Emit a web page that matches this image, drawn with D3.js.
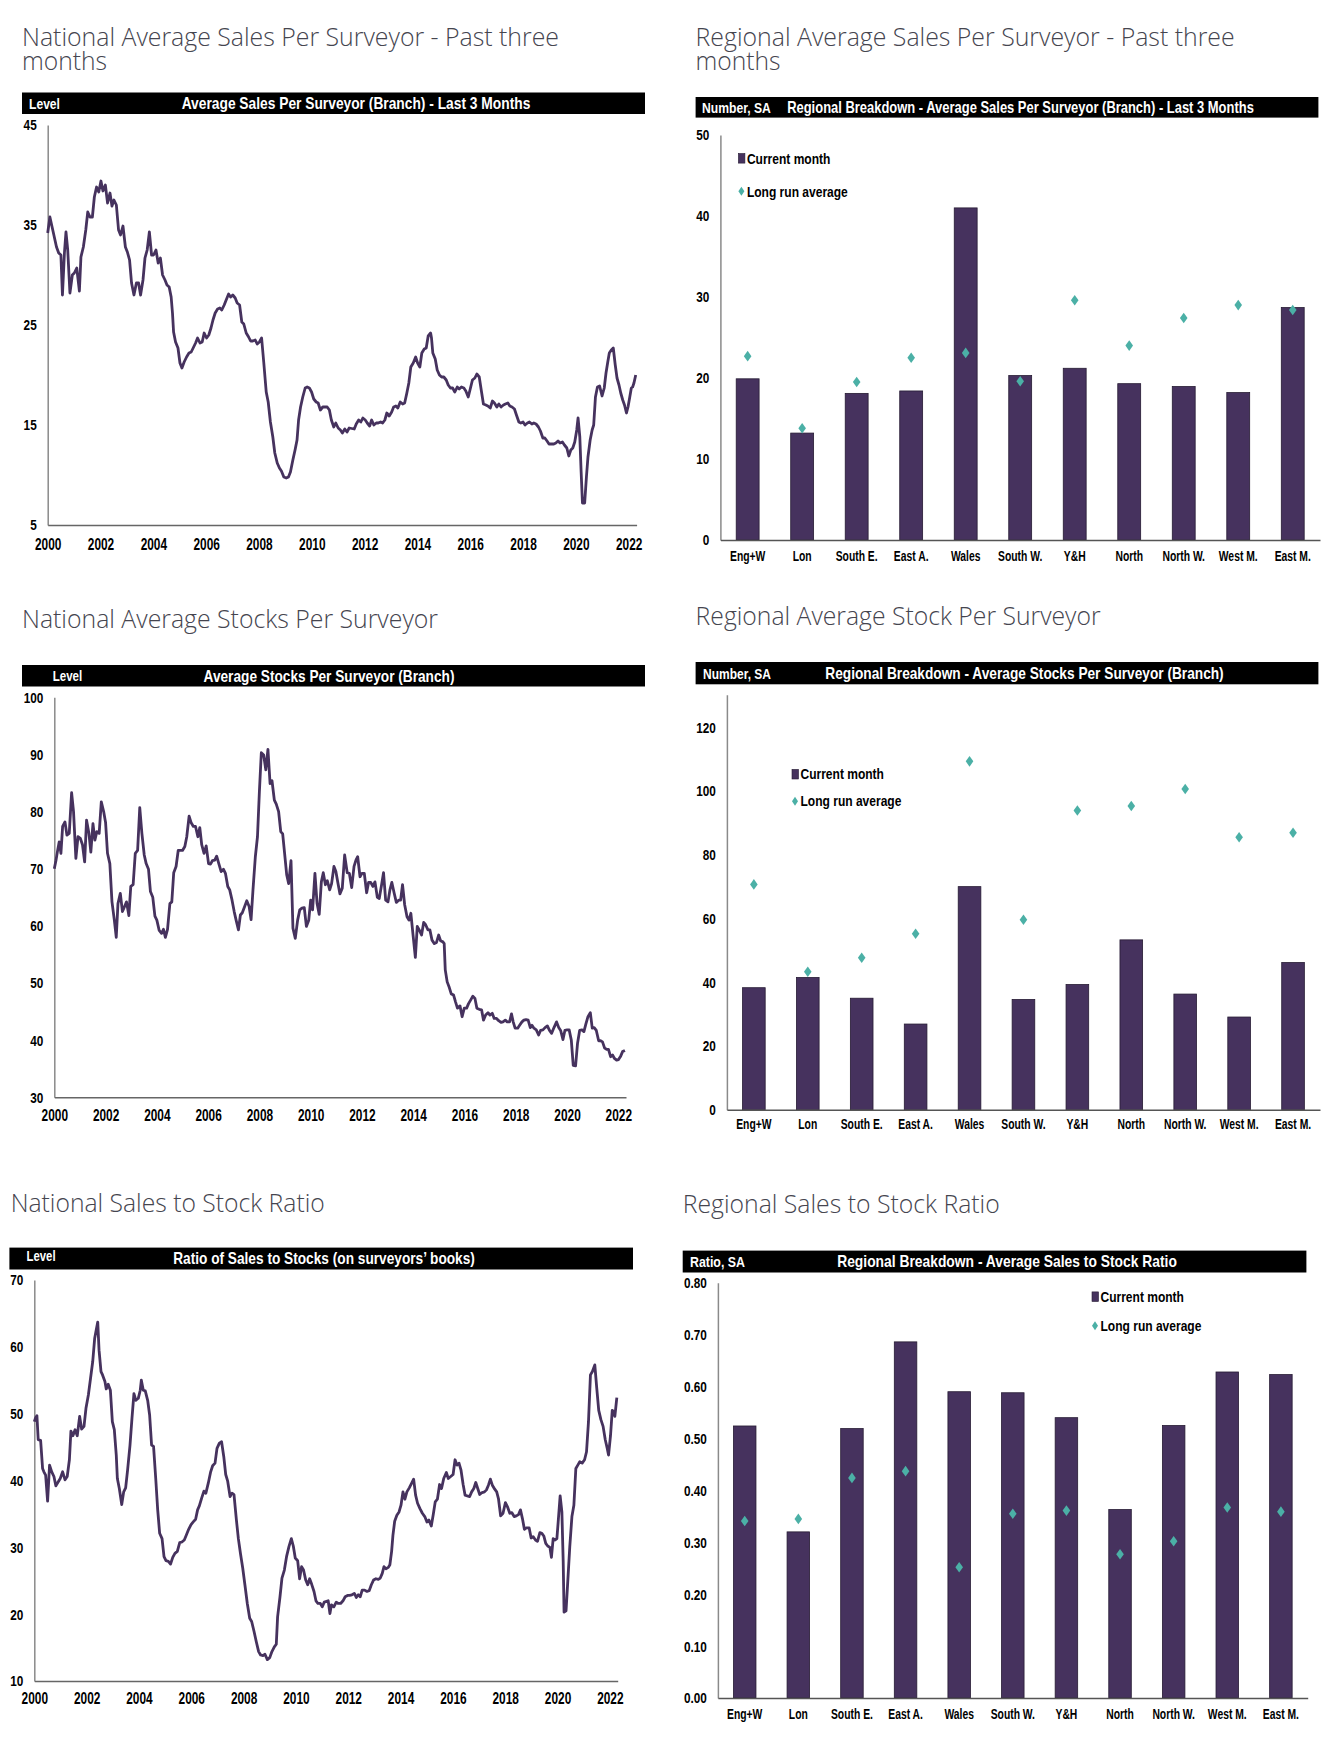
<!DOCTYPE html>
<html><head><meta charset="utf-8">
<script src="https://cdn.jsdelivr.net/npm/d3@7/dist/d3.min.js"></script>
<style>body{margin:0;background:#fff} svg{display:block}</style>
</head><body>
<svg id="c" width="1344" height="1752"></svg>
<script>
// ---------------- DATA ----------------
// line series: [months since Jan 2000, value]
const salesSeries = [[0,34.2],[1,35.8],[2,34.8],[3,33.8],[4,32.8],[5,32.2],[6,32.0],[6.7,28.0],[7.6,32.2],[8.3,34.3],[9.1,32.5],[10.1,28.2],[11.2,30.0],[12.1,30.2],[13.2,30.7],[14.4,28.4],[15.1,31.8],[16.2,32.8],[17.3,34.5],[18.2,36.3],[19.2,35.8],[20.3,35.8],[21.2,37.8],[22.2,38.8],[23.2,38.3],[24.2,39.4],[25.1,38.4],[26.2,39.0],[27.2,37.2],[28.3,38.2],[29.2,36.9],[30.1,37.5],[31.2,37.0],[32.2,34.5],[33.1,34.0],[34.2,34.9],[35.3,32.8],[36.2,32.3],[37.2,31.5],[38.1,29.2],[39.2,28.0],[40.3,29.2],[41.3,29.2],[42.2,28.0],[43.3,29.5],[44.2,31.7],[45.2,32.5],[46.2,34.3],[47.2,32.0],[48.1,32.0],[49.2,32.5],[50.2,31.2],[51.2,31.7],[52.2,30.0],[53.3,29.5],[54.2,29.0],[55.2,28.8],[56.1,27.8],[56.7,26.2],[57.2,24.3],[58.1,23.3],[59.2,22.7],[60.1,21.2],[61,20.7],[62,21.3],[63.1,21.8],[64.2,22.2],[65.2,22.3],[66.1,22.7],[67.2,23.2],[68.1,23.7],[69.2,23.2],[70.2,23.3],[71.1,24.2],[72.2,23.7],[73.2,24.0],[74.2,24.7],[75.1,25.5],[76.1,26.2],[77.2,26.6],[78.2,26.7],[79.1,26.5],[80.2,27.0],[81.1,27.5],[82.2,28.1],[83.1,27.8],[84.1,28.0],[85.2,27.7],[86.1,27.2],[87.2,27.0],[88.2,25.3],[89.1,25.1],[90.2,24.2],[91.3,23.8],[92.2,23.4],[93.2,23.4],[94.3,23.5],[95.2,23.1],[96.2,23.3],[97.2,23.7],[98.2,21.2],[99.3,18.3],[100.2,17.3],[101.2,15.3],[102.3,13.8],[103.2,12.2],[104.3,11.2],[105.3,10.7],[106.2,10.4],[107.3,9.8],[108.4,9.7],[109.4,9.8],[110.3,10.3],[111.4,11.5],[112.4,12.5],[113.3,13.5],[114,15.5],[114.9,16.8],[115.9,17.8],[117,18.7],[117.9,18.8],[118.9,18.7],[119.9,18.3],[120.9,17.6],[122,17.3],[122.9,17.2],[123.9,16.5],[125,16.8],[125.9,16.8],[127,16.8],[128,16.5],[128.9,15.5],[130,14.8],[130.9,15.2],[132,14.7],[133,14.5],[133.9,14.2],[135,14.6],[136,14.3],[137,14.7],
[139.3,14.6],[140.2,15.1],[141.3,15.5],[142.3,15.3],[143.2,15.7],[144.3,15.5],[145.2,15.2],[146.3,14.9],[147.2,15.5],[148.2,15.0],[149.3,15.2],[150.2,15.2],[151.3,15.3],[152.2,15.2],[153.2,15.5],[154.1,16.2],[155.2,15.9],[156.3,16.3],[157.2,16.8],[158.2,16.9],[159.1,16.7],[160.2,17.3],[161.3,17.1],[162.2,17.2],[163.2,18.2],[164.1,19.2],[165,20.8],[166.1,21.2],[167.2,21.8],[168.1,21.2],[169.1,20.8],[170,22.2],[171.1,22.6],[172,22.7],[172.9,23.9],[174,24.2],[174.4,23.7],[175,22.2],[176.1,21.6],[177,20.5],[178,20.0],[179,19.8],[180,19.8],[181.1,19.5],[182,19.0],[183,18.7],[184,18.7],[185,18.3],[186.1,18.8],[187,18.6],[188,18.8],[189.1,18.7],[190,18.4],[191.1,17.8],[192,18.6],[193,19.5],[194.1,19.7],[195,20.1],[196.1,19.8],[197,18.5],[198,17.1],[199.1,17.0],[200,16.9],[201.1,16.7],[202.1,17.4],[203,17.2],[204.1,16.8],[205,17.1],[206,16.8],[207.1,17.0],[208,17.1],[209.1,17.2],[210,16.9],[211,16.8],[212.1,16.6],[213,16.0],[214.1,15.3],[215,15.2],[216,15.3],[216.9,15.0],[218,15.2],[218.9,15.3],[220,15.1],[220.9,15.2],[221.9,15.1],[223,14.8],[223.9,14.4],[225,13.7],[225.9,13.7],[226.9,13.4],[227.8,13.1],[228.9,13.1],[230,13.1],[230.9,13.2],[231.9,13.4],[232.8,13.2],[233.9,13.3],[234.8,13.0],[235.9,12.7],[236.8,11.9],[237.7,12.5],[238.6,12.7],[239.5,13.3],[240.4,14.5],[241,15.7],[241.8,13.8],[242.4,10.3],[243,7.2],[244,7.2],[244.8,9.8],[245.5,11.8],[246.5,13.5],[247.4,14.5],[248.1,15.0],[248.9,17.8],[249.8,18.8],[250.8,18.9],[251.9,17.9],[252.9,18.7],[253.7,20.2],[254.5,21.3],[255.2,22.2],[256.1,22.5],[257,22.7],[257.9,21.0],[258.7,19.7],[259.6,19.0],[260.4,18.2],[261.3,17.5],[262.1,17.0],[263,16.2],[263.7,16.8],[264.5,17.8],[265.2,18.7],[265.8,18.8],[266.4,19.2],[267.2,20.0]];

const stocksSeries = [[0,70.0],[0.8,71.5],[1.6,73.3],[2.3,74.7],[3.1,72.7],[3.9,77.4],[5,78.2],[5.9,75.9],[7,76.2],[8.1,83.3],[9,80.0],[10.1,71.8],[11.1,75.6],[12.2,75.3],[13.2,74.2],[14.2,71.2],[15.1,78.5],[16.2,76.2],[17.1,72.9],[18.1,77.9],[19,75.0],[19.9,76.5],[21,76.2],[22,81.7],[23.1,80.0],[24,78.1],[24.9,72.7],[26,70.9],[27,64.2],[28.1,61.0],[29,58.0],[29.8,63.9],[30.9,65.7],[31.9,62.5],[32.9,63.4],[33.8,64.2],[34.9,61.8],[35.8,66.9],[36.9,67.2],[37.9,72.7],[39,73.2],[40,80.7],[41,76.2],[42.1,72.4],[43,70.9],[44.1,69.9],[45,66.0],[46.1,65.0],[47.1,61.7],[48,61.0],[49.1,59.2],[50.2,58.7],[51.1,59.4],[52,58.0],[53,59.4],[54.1,63.9],[55,64.2],[55.9,69.3],[57,70.4],[58,73.2],[59.1,73.2],[60,73.2],[61.1,73.9],[62,75.6],[63.1,79.2],[64,78.1],[65.1,77.4],[66.1,77.4],[67.2,75.6],[68.1,77.2],[69,74.2],[70.1,72.7],[71.1,74.0],[72.2,70.9],[73.1,70.8],[74,71.4],[75.1,71.5],[76,72.2],[77,70.9],[78.1,69.5],[79.2,69.9],[80.1,69.2],[81.2,66.9],[82.1,66.3],[83.2,64.5],[84.2,62.5],[85.1,61.0],[86.2,59.3],[87.1,61.9],[88,62.3],[89.1,63.4],[90.1,64.4],[91.2,63.4],[92.1,61.1],[93,66.3],[94.1,72.1],[95.1,75.6],[96,83.5],[96.9,90.3],[98,89.9],[99,87.3],[100,90.9],[101,84.9],[101.9,85.4],[103,82.0],[103.9,81.3],[105,80.0],[106,76.5],[106.9,76.1],[107.8,72.7],[108.8,68.9],[109.7,67.4],[110.8,71.4],[111.7,59.6],[112.8,57.8],[113.9,61.0],[114.9,62.8],[115.9,63.1],[117,63.2],[118,59.9],[119.1,61.0],[120,64.5],[120.9,62.8],[122,69.2],[123,63.9],[124,62.0],[125,67.7],[125.9,69.3],[126.9,67.2],[127.8,67.9],[128.9,66.3],[129.8,67.4],[130.9,70.4],[131.8,69.5],[132.8,67.4],[133.7,65.6],[134.8,66.6],[135.9,72.4],
[137.1,69.3],[138.1,69.2],[139.2,66.7],[140.3,70.4],[141.2,71.5],[142,72.1],[143.1,68.6],[144,69.2],[145.1,69.2],[146.2,65.8],[147.1,67.6],[148.1,67.6],[149.1,66.9],[150.1,67.7],[151.2,65.0],[152.1,64.8],[153.2,67.2],[154.1,69.3],[155.1,64.5],[156.2,64.2],[157.1,66.3],[158,67.6],[159.1,65.7],[160.1,64.1],[161.2,64.5],[162.1,64.5],[163,67.2],[164,63.7],[165.1,61.6],[166,61.0],[166.9,62.2],[168,58.1],[169,54.5],[169.9,59.9],[170.8,59.3],[171.9,58.4],[172.9,60.6],[173.8,60.2],[174.9,59.3],[175.8,59.3],[176.8,57.5],[177.9,56.9],[178.9,57.1],[179.9,58.4],[180.8,57.4],[181.9,57.2],[182.5,56.9],[183,52.3],[183.9,50.2],[184.9,49.2],[185.8,48.1],[186.9,47.9],[187.8,46.7],[188.7,45.6],[189.9,46.0],[190.9,44.1],[191.9,45.6],[193,45.6],[193.9,46.4],[195,47.1],[195.9,47.7],[196.9,47.3],[197.8,45.6],[198.9,45.4],[200,45.3],[200.9,43.5],[201.9,44.4],[203,44.8],[203.9,44.4],[205,44.7],[205.9,43.8],[207,43.8],[208,43.4],[209.1,43.1],[210,43.2],[211.1,43.5],[212,43.2],[213.1,43.2],[214,44.6],[214.8,43.2],[215.7,42.1],[216.9,42.1],[217.8,42.6],[218.9,43.2],[219.8,43.5],[220.8,43.6],[221.8,43.5],[222.8,42.2],[223.6,42.6],[224.5,42.1],[225.6,41.8],[226.7,40.9],[227.6,41.7],[228.7,41.8],[229.7,42.2],[230.8,42.5],[231.8,41.7],[232.8,41.2],[233.9,42.2],[235.1,43.2],[236.1,42.2],[237,41.7],[238.1,40.1],[239,41.7],[240.1,41.8],[241,41.8],[242,40.0],[242.9,35.6],[244,35.5],[244.9,39.4],[245.9,41.7],[247,41.8],[247.9,41.5],[248.8,42.8],[249.8,44.1],[250.9,44.8],[251.8,42.1],[252.7,42.2],[253.7,41.7],[254.8,39.9],[255.7,39.9],[256.6,39.7],[257.6,38.6],[258.5,38.4],[259.4,38.4],[260.4,37.1],[261.3,37.4],[262.2,36.8],[263.2,36.5],[264.1,36.6],[265.1,37.2],[266,38.0],[267.1,38.2]];

const ratioSeries = [[0,48.8],[0.6,49.4],[1.2,49.7],[1.8,46.1],[2.9,46.0],[3.8,41.8],[4.4,41.3],[5.2,40.8],[6.1,36.9],[7,42.3],[8,41.3],[9,40.6],[9.9,39.2],[11,39.8],[11.9,40.3],[13,41.3],[14.1,40.1],[15.1,40.6],[16.1,43.1],[16.8,47.4],[17.7,46.7],[18.7,47.6],[19.7,46.7],[20.8,49.6],[21.7,47.7],[22.8,48.1],[23.7,50.8],[24.8,52.8],[25.8,55.3],[26.8,57.8],[27.7,61.3],[28.4,62.5],[29.1,63.7],[29.7,59.5],[30.6,56.3],[31.3,55.8],[32.4,54.8],[33,53.7],[33.9,54.4],[34.9,53.5],[35.8,48.8],[36.7,47.6],[37.6,43.8],[38.1,40.3],[39,38.8],[40.1,36.4],[41,38.3],[41.9,38.9],[42.8,41.6],[43.9,45.3],[44.8,49.3],[45.7,53.0],[46.6,52.0],[47.7,52.3],[48.6,53.5],[49.1,55.0],[50,53.5],[50.9,53.4],[52,52.0],[52.9,49.8],[53.8,45.3],[54.7,45.1],[55.7,40.3],[56.6,35.6],[57.5,32.1],[58.6,31.3],[59.5,28.6],[60.4,28.0],[61.5,27.9],[62.5,27.5],[63.5,28.5],[64.5,29.1],[65.6,29.4],[66.7,30.7],[67.7,30.8],[68.8,31.1],[69.7,31.8],[70.8,32.7],[71.9,33.4],[72.9,33.8],[74,34.2],[74.9,35.6],[75.7,36.2],[76.8,37.4],[77.8,38.4],[78.7,38.1],[79.8,39.6],[80.9,41.3],[81.8,42.2],[82.9,42.6],[83.8,44.8],[84.9,45.6],[85.9,45.8],[86.9,43.6],[87.8,40.9],[88.7,39.9],[89.8,37.6],[90.7,38.1],[91.6,37.9],[92.7,34.1],[93.6,31.3],[94.6,29.0],[95.6,26.9],[96.6,24.4],[97.7,21.6],[98.8,19.4],[99.7,18.9],[100.8,17.4],[101.8,15.9],[102.9,14.4],[103.8,13.9],[104.9,13.8],[105.8,14.0],[106.9,13.2],[108,13.5],[109,14.4],[110.1,15.1],[111,15.5],[111.6,19.6],[112.7,22.6],[113.6,25.4],[114.7,26.6],[115.7,28.6],[116.8,30.1],[117.9,31.3],[118.8,30.2],[119.7,28.4],[120.8,28.0],[121.7,25.3],[122.6,27.1],[123.5,26.6],[124.5,25.1],[125.4,24.4],[126.3,25.3],[127.2,24.5],[128.3,23.4],[129.2,22.0],[130.1,21.6],[131.2,21.6],[132.1,21.1],[133,21.8],
[134.8,22.0],[135.6,20.1],[136.3,21.4],[137.4,21.1],[138.5,21.8],[139.4,21.6],[140.5,21.6],[141.6,22.0],[142.6,22.6],[143.7,22.8],[144.6,22.8],[145.7,22.9],[146.8,23.1],[147.7,22.5],[148.6,22.9],[149.5,22.6],[150.4,23.6],[151.5,23.6],[152.6,23.4],[153.6,23.5],[154.6,24.4],[155.6,25.1],[156.7,25.3],[157.8,25.2],[158.7,25.4],[159.6,26.1],[160.4,27.1],[161.3,26.8],[162.4,27.0],[163.1,27.4],[163.9,29.4],[164.5,31.8],[165.3,33.9],[166.3,34.8],[167.3,35.3],[168.2,36.3],[169.1,38.3],[170,37.2],[170.9,38.3],[172,38.9],[173.1,39.6],[174,40.2],[174.9,37.8],[175.8,36.6],[176.9,35.8],[178,35.1],[179.1,34.6],[180.1,33.8],[181,34.1],[182.1,33.2],[183,34.9],[183.9,36.8],[184.9,37.2],[185.9,39.4],[186.8,38.8],[187.8,40.3],[189,41.2],[189.9,40.3],[191,40.6],[192.1,40.9],[193,43.1],[193.9,42.3],[194.8,42.6],[195.7,41.6],[196.7,39.4],[197.6,37.8],[198.6,37.7],[199.7,37.6],[200.6,38.3],[201.6,38.8],[202.5,39.7],[203.4,38.8],[204.3,37.9],[205.4,38.2],[206.5,38.3],[207.4,38.6],[208.3,39.3],[209.2,40.2],[210.1,39.3],[211.2,38.7],[212.1,38.3],[212.9,37.3],[213.9,34.7],[215,35.1],[216.1,36.7],[217,36.1],[218.1,35.1],[219,35.2],[220.1,34.6],[221.1,34.7],[222.1,34.9],[223,35.6],[223.9,34.3],[224.8,32.7],[225.7,32.9],[227,32.9],[227.9,31.4],[228.8,31.6],[229.9,31.1],[230.8,30.9],[231.9,32.2],[232.8,32.1],[233.7,31.7],[234.6,30.6],[235.5,30.2],[236.5,30.0],[237.2,28.5],[238,31.3],[238.9,31.1],[239.7,31.3],[240.3,33.8],[241.2,37.7],[242,35.3],[242.6,27.9],[243,20.3],[243.9,20.5],[244.7,24.9],[245.6,30.0],[246.6,34.6],[247.5,36.3],[248.4,41.8],[249.3,42.3],[250.2,42.8],[251.3,42.6],[252.4,43.1],[253.3,44.3],[254.2,48.8],[255.1,55.8],[256,56.3],[257.1,57.3],[258,53.8],[258.9,50.5],[259.9,49.1],[260.9,48.1],[261.9,46.1],[262.8,44.8],[263.4,43.8],[264.3,46.7],[265.1,50.5],[265.7,50.3],[266.3,49.6],[267.2,52.4]];

const yearTicks = [2000,2002,2004,2006,2008,2010,2012,2014,2016,2018,2020,2022];
const salesTicks = [5,15,25,35,45];
const stocksTicks = [30,40,50,60,70,80,90,100];
const ratioTicks = [10,20,30,40,50,60,70];

const regions = ["Eng+W","Lon","South E.","East A.","Wales","South W.","Y&H","North","North W.","West M.","East M."];
const regSalesCurrent = [19.9,13.2,18.1,18.4,41.0,20.3,21.2,19.3,18.95,18.2,28.7];
const regSalesLongRun = [22.7,13.8,19.5,22.5,23.1,19.6,29.6,24.0,27.4,29.0,28.4];
const regStocksCurrent = [38.3,41.5,35.0,26.9,70.0,34.6,39.3,53.3,36.3,29.1,46.2];
const regStocksLongRun = [70.7,43.3,47.7,55.2,109.3,59.6,93.9,95.3,100.6,85.5,86.9];
const regRatioCurrent = [0.524,0.320,0.519,0.686,0.590,0.588,0.540,0.363,0.525,0.628,0.623];
const regRatioLongRun = [0.341,0.345,0.424,0.437,0.252,0.355,0.361,0.277,0.302,0.367,0.359];
const regSalesTicks = [0,10,20,30,40,50];
const regStocksTicks = [0,20,40,60,80,100,120];
const regRatioTicks = [0,0.1,0.2,0.3,0.4,0.5,0.6,0.7,0.8];
const legendLabels = ["Current month","Long run average"];

// ---------------- STYLE ----------------
const NARROW = "'Liberation Sans','Arial',sans-serif";
const TITLEF = "'Open Sans','Noto Sans',sans-serif";
const PURPLE = "#46325e";
const TEAL = "#4bb0a6";
const AXISC = "#8a8a8a";

const svg = d3.select("#c");

// place a text at (x,y) and squeeze it horizontally to a target width
function squeezed(parent, x, y, txt, w, anchor, attrs) {
  const t = parent.append("text").attr("text-anchor", anchor || "start").text(txt);
  Object.entries(attrs).forEach(([k, v]) => t.attr(k, v));
  const n = t.node().getComputedTextLength();
  const s = w / n;
  t.attr("transform", `translate(${x},${y}) scale(${s},1)`);
  return t;
}

function titleBlock(c) {
  const tt = svg.append("text").attr("transform", `translate(${c.titleX},${c.titleY})`)
    .attr("font-family", TITLEF).attr("font-weight", 300).attr("font-size", 25.5)
    .attr("fill", "#45454f");
  c.title.forEach((t, i) => {
    tt.append("tspan").attr("x", 0).attr("y", i * 24.3).text(t)
      .attr("textLength", c.titleW[i]).attr("lengthAdjust", "spacingAndGlyphs");
  });
  svg.append("rect").attr("x", c.bar[0]).attr("y", c.bar[1])
    .attr("width", c.bar[2] - c.bar[0]).attr("height", c.bar[3] - c.bar[1]).attr("fill", "#000");
  const cy = (c.bar[1] + c.bar[3]) / 2;
  const base = { "font-family": NARROW, "font-weight": "bold", "fill": "#fff", "dy": "0.36em" };
  squeezed(svg, c.unitX, cy + (c.unitDy || 0), c.unit, c.unitW, "start", { ...base, "font-size": 15 });
  squeezed(svg, c.headX, cy, c.head, c.headW, "middle", { ...base, "font-size": 16 });
}

function styleAxis(g, size, sx, left) {
  g.selectAll("text").attr("font-family", NARROW).attr("font-weight", "bold")
    .attr("font-size", size).attr("fill", "#000")
    .attr("transform", `scale(${sx},1)`);
  if (left) g.selectAll("text").attr("x", -11 / sx);
  g.select(".domain").attr("stroke", AXISC).attr("stroke-width", 1.5);
}

function lineChart(c) {
  titleBlock(c);
  const x = d3.scaleLinear().domain([2000, 2022.3]).range([c.x0, c.x1]);
  const y = d3.scaleLinear().domain(c.yDomain).range([c.yB, c.yT]);
  const gy = svg.append("g").attr("transform", `translate(${c.x0},0)`)
    .call(d3.axisLeft(y).tickValues(c.yTicks).tickSize(0).tickPadding(11).tickSizeOuter(0));
  styleAxis(gy, 15.5, 0.76, true);
  const gx = svg.append("g").attr("transform", `translate(0,${c.yB})`)
    .call(d3.axisBottom(x).tickValues(yearTicks).tickFormat(d3.format("d")).tickSize(0).tickSizeOuter(0));
  styleAxis(gx, 16.5, 0.72, false);
  gx.selectAll("text").attr("y", c.xLabOff).attr("dy", "0.36em");
  gx.select(".domain").attr("stroke", "#666");
  const line = d3.line().x(d => x(2000 + d[0] / 12)).y(d => y(d[1]));
  svg.append("path").datum(c.data).attr("d", line).attr("fill", "none")
    .attr("stroke", PURPLE).attr("stroke-width", 2.8).attr("stroke-linejoin", "round");
}

function diamond(w, h) { return `M0,${-h}L${w},0L0,${h}L${-w},0Z`; }

function barChart(c) {
  titleBlock(c);
  const x = d3.scaleBand().domain(regions).range([c.x0, c.x1]).paddingInner(0.58).paddingOuter(0.29);
  const y = d3.scaleLinear().domain(c.yDomain).range([c.yB, c.yT]);
  svg.append("g").selectAll("rect").data(c.current).join("rect")
    .attr("x", (d, i) => x(regions[i])).attr("width", x.bandwidth())
    .attr("y", d => y(d)).attr("height", d => y(0) - y(d))
    .attr("fill", PURPLE).attr("stroke", "#261b33").attr("stroke-width", 0.8);
  svg.append("g").selectAll("path").data(c.longRun).join("path")
    .attr("d", diamond(3.8, 5.3))
    .attr("transform", (d, i) => `translate(${x(regions[i]) + x.bandwidth() / 2},${y(d)})`)
    .attr("fill", TEAL);
  const gy = svg.append("g").attr("transform", `translate(${c.x0},0)`)
    .call(d3.axisLeft(y).tickValues(c.yTicks).tickFormat(c.fmt).tickSize(0).tickPadding(11).tickSizeOuter(0));
  styleAxis(gy, 15.5, 0.76, true);
  const gx = svg.append("g").attr("transform", `translate(0,${c.yB})`)
    .call(d3.axisBottom(x).tickSize(0).tickSizeOuter(0));
  styleAxis(gx, 14, 0.74, false);
  gx.selectAll("text").attr("y", c.xLabOff).attr("dy", "0.36em");
  gx.select(".domain").attr("stroke", "#555");
  // legend
  const L = c.legend;
  svg.append("rect").attr("x", L[0]).attr("y", L[1] - 4.8).attr("width", 6.5).attr("height", 9.6)
    .attr("fill", PURPLE).attr("stroke", "#261b33").attr("stroke-width", 0.6);
  svg.append("path").attr("d", diamond(3, 4.5)).attr("transform", `translate(${L[0] + 3},${L[1] + L[2]})`).attr("fill", TEAL);
  legendLabels.forEach((t, i) => {
    squeezed(svg, L[0] + 8.5, L[1] + i * L[2], t, [83.5, 101][i], "start",
      { "font-family": NARROW, "font-weight": "bold", "font-size": 14.5, "fill": "#000", "dy": "0.36em" });
  });
}

// ---------------- CHARTS ----------------
lineChart({
  title: ["National Average Sales Per Surveyor - Past three", "months"], titleW: [537, 85], titleX: 22, titleY: 46,
  bar: [22, 92.5, 645, 114], unit: "Level", unitW: 31, unitX: 29, head: "Average Sales Per Surveyor (Branch) - Last 3 Months", headW: 349, headX: 356,
  x0: 47.7, x1: 636.6, yB: 525, yT: 125, yDomain: [5, 45], yTicks: salesTicks, xLabOff: 19, data: salesSeries
});
barChart({
  title: ["Regional Average Sales Per Surveyor - Past three", "months"], titleW: [539, 85], titleX: 695.6, titleY: 46,
  bar: [695.6, 97, 1318.4, 117.6], unit: "Number, SA", unitW: 69, unitX: 702, head: "Regional Breakdown - Average Sales Per Surveyor (Branch) - Last 3 Months", headW: 467, headX: 1020.5,
  x0: 720.4, x1: 1320, yB: 540, yT: 135, yDomain: [0, 50], yTicks: regSalesTicks, fmt: d3.format("d"), xLabOff: 16,
  current: regSalesCurrent, longRun: regSalesLongRun, legend: [738.4, 158.3, 33]
});
lineChart({
  title: ["National Average Stocks Per Surveyor"], titleW: [416], titleX: 22, titleY: 628,
  bar: [22, 665, 645, 686.5], unit: "Level", unitW: 29.6, unitX: 52.7, head: "Average Stocks Per Surveyor (Branch)", headW: 251, headX: 329,
  x0: 54.3, x1: 626, yB: 1097.3, yT: 697.3, yDomain: [30, 100], yTicks: stocksTicks, xLabOff: 18, data: stocksSeries
});
barChart({
  title: ["Regional Average Stock Per Surveyor"], titleW: [405], titleX: 695.6, titleY: 625,
  bar: [695.6, 662, 1318.4, 684.3], unit: "Number, SA", unitW: 68, unitX: 703, head: "Regional Breakdown - Average Stocks Per Surveyor (Branch)", headW: 399, headX: 1024.5,
  x0: 726.9, x1: 1320, yB: 1109.8, yT: 694.7, yDomain: [0, 130.2], yTicks: regStocksTicks, fmt: d3.format("d"), xLabOff: 14,
  current: regStocksCurrent, longRun: regStocksLongRun, legend: [792, 774.2, 27]
});
lineChart({
  title: ["National Sales to Stock Ratio"], titleW: [314], titleX: 10.7, titleY: 1212,
  bar: [9.4, 1247.6, 633, 1269.5], unit: "Level", unitW: 29, unitX: 26.6, unitDy: -2.5, head: "Ratio of Sales to Stocks (on surveyors’ books)", headW: 302, headX: 324,
  x0: 34.3, x1: 617.7, yB: 1681, yT: 1280, yDomain: [10, 70], yTicks: ratioTicks, xLabOff: 17, data: ratioSeries
});
barChart({
  title: ["Regional Sales to Stock Ratio"], titleW: [317], titleX: 682.7, titleY: 1212.8,
  bar: [682.7, 1250.6, 1306.4, 1272.5], unit: "Ratio, SA", unitW: 55, unitX: 690, head: "Regional Breakdown - Average Sales to Stock Ratio", headW: 340, headX: 1007,
  x0: 717.9, x1: 1307.7, yB: 1698, yT: 1282.7, yDomain: [0, 0.8], yTicks: regRatioTicks, fmt: d3.format(".2f"), xLabOff: 16,
  current: regRatioCurrent, longRun: regRatioLongRun, legend: [1092, 1296.7, 29]
});
</script>
</body></html>
